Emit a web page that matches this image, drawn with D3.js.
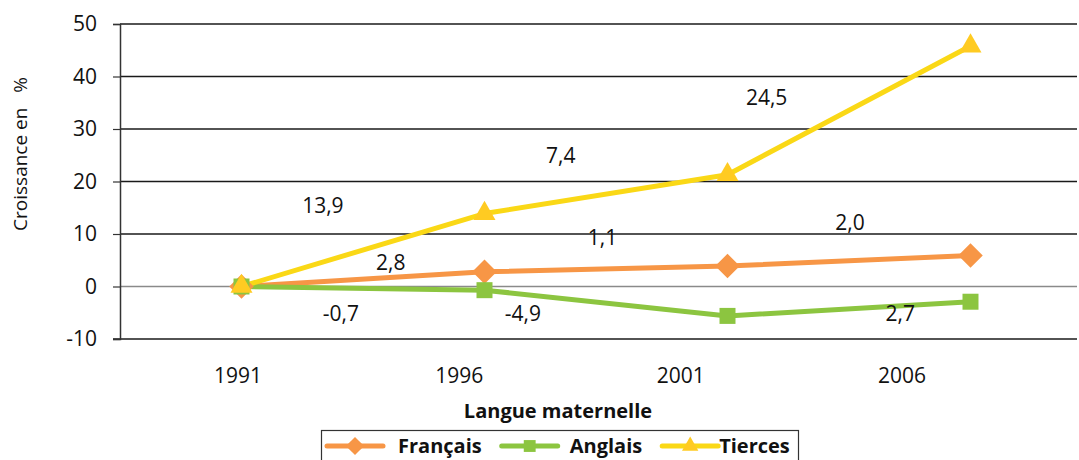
<!DOCTYPE html>
<html>
<head>
<meta charset="utf-8">
<script src="https://cdn.jsdelivr.net/npm/d3@7"></script>
<style>
  body { margin: 0; background: #fff; }
  svg text { font-family: "Open Sans", sans-serif; fill: #111; }
</style>
</head>
<body>
<svg id="chart" width="1079" height="460"></svg>
<script>
// data
let years = ["1991", "1996", "2001", "2006"];
let francais = [0, 2.8, 3.9, 5.9];
let anglais = [0, -0.7, -5.6, -2.9];
let tierces = [0, 13.9, 21.3, 45.8];
let yTicks = [-10, 0, 10, 20, 30, 40, 50];

// growth labels between census years: text, position (year index), height (% units)
let labelText = ["13,9", "7,4", "24,5", "2,8", "1,1", "2,0", "-0,7", "-4,9", "2,7"];
let labelAt = [0.335, 1.314, 2.161, 0.614, 1.486, 2.504, 0.409, 1.158, 2.711];
let labelY = [15.4, 24.95, 36.05, 4.63, 9.4, 12.25, -5.2, -5.2, -5.2];

let seriesNames = ["Français", "Anglais", "Tierces"];

let colors = { Français: "#f79646", Anglais: "#8cc540", Tierces: "#fad816" };
let markerColors = { Français: "#f79646", Anglais: "#8cc540", Tierces: "#ffcb22" };
// diamond = square turned 45deg
let symbols = { Français: d3.symbolSquare, Anglais: d3.symbolSquare, Tierces: d3.symbolTriangle };
let symRot = { Français: 45, Anglais: 0, Tierces: 0 };
let symSize = { Français: 300, Anglais: 256, Tierces: 210 };

let svg = d3.select("#chart");

let plotLeft = 120, plotRight = 1077, plotTop = 24, plotBottom = 339;

let y = d3.scaleLinear().domain([-10, 50]).range([plotBottom, plotTop]);
let x = d3.scalePoint().domain(years).range([241.5, 970.5]);
let xi = d3.scaleLinear().domain([0, years.length - 1]).range([241.5, 970.5]);
// the category labels sit a bit off the points in the original
let xLab = d3.scalePoint().domain(years).range([238, 902]);

// grid
svg.append("g").selectAll("line").data(yTicks).enter().append("line")
  .attr("x1", d => d == -10 ? 113 : plotLeft).attr("x2", plotRight)
  .attr("y1", d => y(d)).attr("y2", d => y(d))
  .attr("stroke", d => d == 0 ? "#8a8a8a" : "#1a1a1a")
  .attr("stroke-width", 1.6);

// y axis
let yAxis = svg.append("g").attr("transform", "translate(" + plotLeft + ",0)")
  .call(d3.axisLeft(y).tickValues(yTicks).tickSize(7).tickPadding(16).tickFormat(d => String(d)));
yAxis.select(".domain").attr("stroke", "#333").attr("stroke-width", 1.5);
yAxis.selectAll(".tick line").attr("stroke", "#333").attr("stroke-width", 1.2);
yAxis.selectAll("text").attr("font-size", "21px").attr("font-family", "Open Sans").attr("fill", "#111");

// category labels
svg.append("g").selectAll("text").data(years).enter().append("text")
  .attr("x", d => xLab(d)).attr("y", 376).attr("dy", "0.35em")
  .attr("text-anchor", "middle").attr("font-size", "21px").text(d => d);

// axis titles
svg.append("text").attr("x", 558).attr("y", 411).attr("dy", "0.35em")
  .attr("text-anchor", "middle").attr("font-size", "20px").attr("font-weight", "bold")
  .text("Langue maternelle");

svg.append("text").attr("transform", "translate(27,154) rotate(-90)")
  .attr("text-anchor", "middle").attr("font-size", "19px")
  .text("Croissance en\u00a0\u00a0\u00a0%");

// series
let line = d3.line().x((d, i) => x(years[i])).y(d => y(d));
let allSeries = [francais, anglais, tierces];

allSeries.forEach((vals, k) => {
  let name = seriesNames[k];
  svg.append("path").datum(vals).attr("d", line)
    .attr("fill", "none").attr("stroke", colors[name]).attr("stroke-width", 5)
    .attr("stroke-linejoin", "round");
});
allSeries.forEach((vals, k) => {
  let name = seriesNames[k];
  svg.append("g").selectAll("path").data(vals).enter().append("path")
    .attr("d", d3.symbol().type(symbols[name]).size(symSize[name]))
    .attr("transform", (d, i) => "translate(" + x(years[i]) + "," + y(d) + ") rotate(" + symRot[name] + ")")
    .attr("fill", markerColors[name]);
});

// growth labels
svg.append("g").selectAll("text").data(labelText).enter().append("text")
  .attr("x", (d, i) => xi(labelAt[i])).attr("y", (d, i) => y(labelY[i]))
  .attr("dy", "0.35em").attr("text-anchor", "middle").attr("font-size", "21px")
  .text(d => d);

// legend
let leg = svg.append("g");
leg.append("rect").attr("x", 321.5).attr("y", 430.5).attr("width", 477).attr("height", 40)
  .attr("fill", "#fff").attr("stroke", "#333").attr("stroke-width", 1.2);

let lx = 327;
let gaps = [15, 12, 1];
seriesNames.forEach((name, k) => {
  leg.append("line").attr("x1", lx).attr("x2", lx + 56).attr("y1", 446).attr("y2", 446)
    .attr("stroke", colors[name]).attr("stroke-width", 5).attr("stroke-linecap", "round");
  leg.append("path").attr("d", d3.symbol().type(symbols[name]).size(symSize[name] * 0.55))
    .attr("transform", "translate(" + (lx + 28) + ",446) rotate(" + symRot[name] + ")")
    .attr("fill", markerColors[name]);
  let t = leg.append("text").attr("x", lx + 56 + gaps[k]).attr("y", 446).attr("dy", "0.35em")
    .attr("font-size", "20px").attr("font-weight", "bold").text(name);
  lx = lx + 56 + gaps[k] + t.node().getComputedTextLength() + 20;
});
</script>
</body>
</html>
